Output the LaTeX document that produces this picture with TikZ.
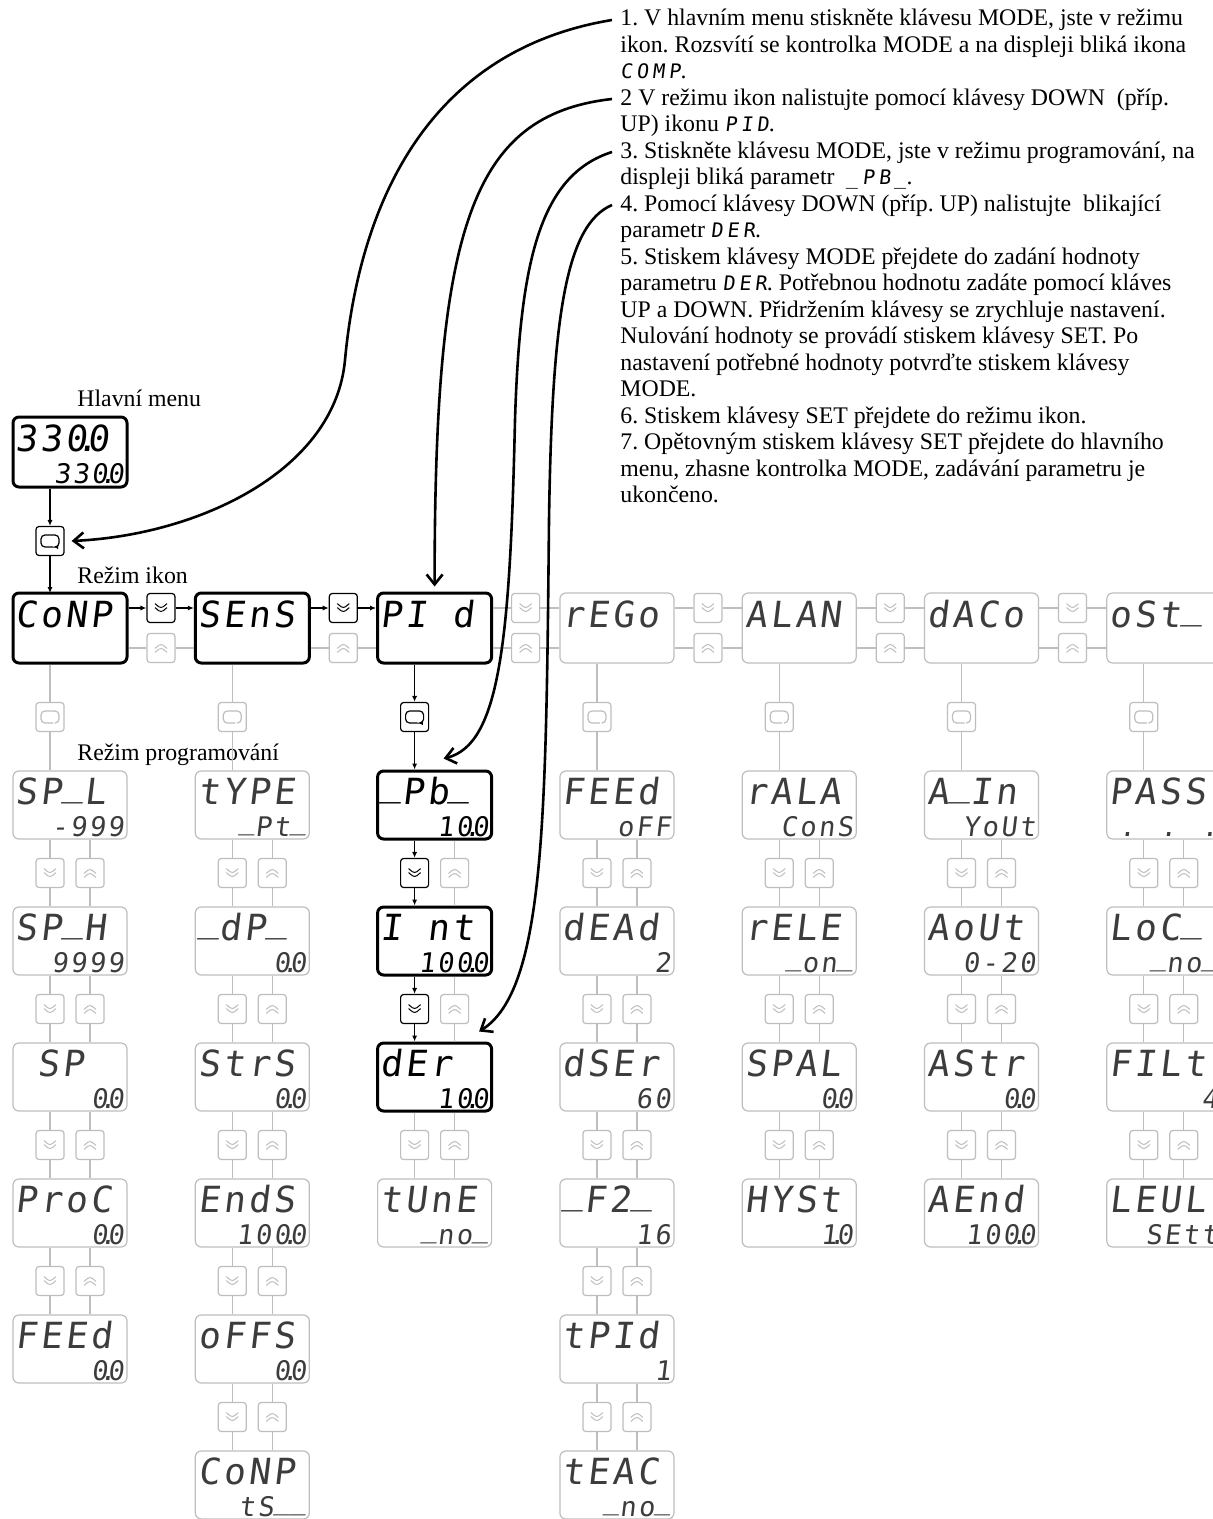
\documentclass[tikz,border=0pt]{standalone}
\usepackage{fontspec}
\setmainfont{Liberation Serif}
\newfontfamily\segfont[FakeSlant=0.12,LetterSpace=9]{DejaVu Sans Mono}
\newfontfamily\seginline[FakeSlant=0.12,LetterSpace=20]{DejaVu Sans Mono}
\usetikzlibrary{arrows.meta,calc}

\definecolor{offgray}{RGB}{190,190,190}
\definecolor{offtext}{RGB}{60,60,60}

% display contents: upper row left, lower row right
\newcommand\dt{\makebox[0pt]{.}}
\newcommand\us{\raisebox{0.23em}{\_}}
\newcommand\lcd[2]{\parbox[c][33pt][t]{54pt}{\segfont
  \fontsize{18}{18}\selectfont\rule{0pt}{16pt}#1\par\vfill
  \fontsize{13.5}{13.5}\selectfont\hfill#2\rule[-1pt]{0pt}{1pt}\par}}
\newcommand\sg[1]{{\seginline\fontsize{10}{10}\selectfont #1}}

% key symbols
\newcommand\chevdown[1]{\draw[#1, line width=0.5pt]
  ([shift={(-3pt,2.2pt)}]path picture bounding box.center) -- ++(3pt,-2.5pt) -- ++(3pt,2.5pt)
  ([shift={(-3pt,0.2pt)}]path picture bounding box.center) -- ++(3pt,-2.5pt) -- ++(3pt,2.5pt);}
\newcommand\chevup[1]{\draw[#1, line width=0.5pt]
  ([shift={(-3pt,-2.2pt)}]path picture bounding box.center) -- ++(3pt,2.5pt) -- ++(3pt,-2.5pt)
  ([shift={(-3pt,-0.2pt)}]path picture bounding box.center) -- ++(3pt,2.5pt) -- ++(3pt,-2.5pt);}
\newcommand\loopmark[2]{\draw[#1, line width=0.6pt, rounded corners=2pt, #2]
  ([shift={(1.5pt,-3pt)}]path picture bounding box.center) -- ++(-6pt,0pt) -- ++(0pt,6pt)
  -- ++(9pt,0pt) -- ++(0pt,-6pt) -- ++(-2.2pt,0pt);}

\tikzset{
  lcdon/.style={draw, line width=1.5pt, rounded corners=3pt, fill=white, inner sep=0pt,
    minimum width=57pt, minimum height=35pt, text=black},
  lcdoff/.style={lcdon, draw=offgray, line width=0.6pt, text=offtext},
  prog/.style={minimum height=34pt},
  keyon/.style={draw, line width=0.6pt, rounded corners=1.5pt, fill=white, inner sep=0pt,
    minimum width=14pt, minimum height=14.5pt},
  keyoff/.style={keyon, draw=offgray},
  dkey/.style={path picture={\chevdown{#1}}},
  ukey/.style={path picture={\chevup{#1}}},
  lkey/.style={path picture={\loopmark{#1}{}}},
  lkeyon/.style={path picture={\loopmark{black}{-{Latex[length=1.8pt,width=2.4pt]}}}},
  conon/.style={line width=0.6pt, -{Latex[length=3pt,width=2.6pt]}},
  conoff/.style={draw=offgray, line width=0.6pt},
  modetitle/.style={anchor=base west, inner sep=0pt, font=\fontsize{11.9}{13.25}\selectfont},
  steps/.style={align=left, inner sep=0pt, font=\fontsize{11.9}{13.25}\selectfont\frenchspacing},
  hint/.style={line width=1.3pt, -{Straight Barb[length=5pt,width=8pt]}}
}

\begin{document}
\begin{tikzpicture}[x=0.5pt, y=-0.5pt]
  \fill[white] (0,0) rectangle (1213,1519);
  \useasboundingbox (0,0) rectangle (1213,1519);
  \clip (0,0) rectangle (1213,1519);

  % Main menu
  \node[modetitle] (tmain) at (77,407) {Hlavní menu};
  \node[lcdon] (main) at (70,452) {\lcd{330\dt0}{330\dt0}};
  \node[keyon, lkeyon] (kmain) at (50,541) {};
  \draw[conon] (kmain.north |- main.south) -- (kmain.north);
  \draw[conon] (kmain.south) -- (kmain.south |- 0,593);

  % Icon mode
  \node[modetitle] (ticon) at (77,583) {Režim ikon};
  \node[lcdon] (i1) at (70,628) {\lcd{CoNP}{}};
  \node[lcdon] (i2) at (252.3,628) {\lcd{SEnS}{}};
  \node[lcdon] (i3) at (434.6,628) {\lcd{PI d}{}};
  \node[lcdoff] (i4) at (616.9,628) {\lcd{rEGo}{}};
  \node[lcdoff] (i5) at (799.2,628) {\lcd{ALAN}{}};
  \node[lcdoff] (i6) at (981.5,628) {\lcd{dACo}{}};
  \node[lcdoff] (i7) at (1163.8,628) {\lcd{oSt\us}{}};

  % keys between the icons
  \node[keyon, dkey=black] (hd1) at (161,608) {};
  \node[keyon, dkey=black] (hd2) at (343.3,608) {};
  \draw[conon] (i1.east |- hd1) -- (hd1.west);
  \draw[conon] (hd1.east) -- (hd1.east -| i2.west);
  \draw[conon] (i2.east |- hd2) -- (hd2.west);
  \draw[conon] (hd2.east) -- (hd2.east -| i3.west);
  \foreach \c/\x [evaluate=\c as \s using int(\c+1)] in {3/434.6, 4/616.9, 5/799.2, 6/981.5} {
    \node[keyoff, dkey=offgray] (hd\c) at ({\x+91},608) {};
    \draw[conoff] (i\c.east |- hd\c) -- (hd\c.west) (hd\c.east) -- (hd\c.east -| i\s.west);
  }
  \foreach \c/\x [evaluate=\c as \s using int(\c+1)] in {1/70, 2/252.3, 3/434.6, 4/616.9, 5/799.2, 6/981.5} {
    \node[keyoff, ukey=offgray] (hu\c) at ({\x+91},648) {};
    \draw[conoff] (i\c.east |- hu\c) -- (hu\c.west) (hu\c.east) -- (hu\c.east -| i\s.west);
  }

  % Programming mode
  \node[modetitle] (tprog) at (77,760) {Režim programování};
  \foreach \t/\b [count=\r] in {SP\us L/-999, SP\us H/9999, {\phantom{S}SP}/0\dt0, ProC/0\dt0, FEEd/0\dt0}
    \node[lcdoff, prog] (p1-\r) at (70,{805+136*(\r-1)}) {\lcd{\t}{\b}};
  \foreach \t/\b [count=\r] in {tYPE/\us Pt\us, \us dP\us/0\dt0, StrS/0\dt0, EndS/100\dt0, oFFS/0\dt0, CoNP/tS\us\us}
    \node[lcdoff, prog] (p2-\r) at (252.3,{805+136*(\r-1)}) {\lcd{\t}{\b}};
  \node[lcdon, prog] (p3-1) at (434.6,805) {\lcd{\us Pb\us}{10\dt0}};
  \node[lcdon, prog] (p3-2) at (434.6,941) {\lcd{I nt}{100\dt0}};
  \node[lcdon, prog] (p3-3) at (434.6,1077) {\lcd{dEr}{10\dt0}};
  \node[lcdoff, prog] (p3-4) at (434.6,1213) {\lcd{tUnE}{\us no\us}};
  \foreach \t/\b [count=\r] in {FEEd/oFF, dEAd/2, dSEr/60, \us F2\us/16, tPId/1, tEAC/\us no\us}
    \node[lcdoff, prog] (p4-\r) at (616.9,{805+136*(\r-1)}) {\lcd{\t}{\b}};
  \foreach \t/\b [count=\r] in {rALA/ConS, rELE/\us on\us, SPAL/0\dt0, HYSt/1\dt0}
    \node[lcdoff, prog] (p5-\r) at (799.2,{805+136*(\r-1)}) {\lcd{\t}{\b}};
  \foreach \t/\b [count=\r] in {A\us In/YoUt, AoUt/0-20, AStr/0\dt0, AEnd/100\dt0}
    \node[lcdoff, prog] (p6-\r) at (981.5,{805+136*(\r-1)}) {\lcd{\t}{\b}};
  \foreach \t/\b [count=\r] in {PASS/. . ., LoC\us/\us no\us, FILt/4, LEUL/SEtt}
    \node[lcdoff, prog] (p7-\r) at (1163.8,{805+136*(\r-1)}) {\lcd{\t}{\b}};

  % grey keys of the programming columns
  \foreach \c/\x/\n in {1/70/5, 2/252.3/6, 4/616.9/6, 5/799.2/4, 6/981.5/4, 7/1163.8/4} {
    \node[keyoff, lkey=offgray] (m\c) at ({\x-20},717) {};
    \draw[conoff] (m\c.north |- i\c.south) -- (m\c.north) (m\c.south) -- (m\c.south |- p\c-1.north);
    \pgfmathtruncatemacro\last{\n-1}
    \foreach \r [evaluate=\r as \s using int(\r+1)] in {1,...,\last} {
      \node[keyoff, dkey=offgray] (d\c-\r) at ({\x-20},{873+136*(\r-1)}) {};
      \node[keyoff, ukey=offgray] (u\c-\r) at ({\x+20},{873+136*(\r-1)}) {};
      \draw[conoff] (d\c-\r.north |- p\c-\r.south) -- (d\c-\r.north) (d\c-\r.south) -- (d\c-\r.south |- p\c-\s.north);
      \draw[conoff] (u\c-\r.north |- p\c-\r.south) -- (u\c-\r.north) (u\c-\r.south) -- (u\c-\r.south |- p\c-\s.north);
    }
  }

  % PID column
  \node[keyon, lkeyon] (m3) at (414.6,717) {};
  \draw[conon] (m3.north |- i3.south) -- (m3.north);
  \draw[conon] (m3.south) -- (m3.south |- p3-1.north);
  \node[keyon, dkey=black] (d3-1) at (414.6,873) {};
  \node[keyon, dkey=black] (d3-2) at (414.6,1009) {};
  \node[keyoff, dkey=offgray] (d3-3) at (414.6,1145) {};
  \draw[conon] (d3-1.north |- p3-1.south) -- (d3-1.north);
  \draw[conon] (d3-1.south) -- (d3-1.south |- p3-2.north);
  \draw[conon] (d3-2.north |- p3-2.south) -- (d3-2.north);
  \draw[conon] (d3-2.south) -- (d3-2.south |- p3-3.north);
  \draw[conoff] (d3-3.north |- p3-3.south) -- (d3-3.north) (d3-3.south) -- (d3-3.south |- p3-4.north);
  \foreach \r [evaluate=\r as \s using int(\r+1)] in {1,2,3} {
    \node[keyoff, ukey=offgray] (u3-\r) at (454.6,{873+136*(\r-1)}) {};
    \draw[conoff] (u3-\r.north |- p3-\r.south) -- (u3-\r.north) (u3-\r.south) -- (u3-\r.south |- p3-\s.north);
  }

  % Steps
  \node[steps, anchor=north west] (steps) at (620,9) {%
    1. V hlavním menu stiskněte klávesu MODE, jste v režimu\\
    ikon. Rozsvítí se kontrolka MODE a na displeji bliká ikona\\
    \sg{COMP}.\\
    2 V režimu ikon nalistujte pomocí klávesy DOWN~ (příp.\\
    UP) ikonu \sg{PID}.\\
    3. Stiskněte klávesu MODE, jste v režimu programování, na\\
    displeji bliká parametr~ \sg{\_PB\_}.\\
    4. Pomocí klávesy DOWN (příp. UP) nalistujte~ blikající\\
    parametr \sg{DER}.\\
    5. Stiskem klávesy MODE přejdete do zadání hodnoty\\
    parametru \sg{DER}. Potřebnou hodnotu zadáte pomocí kláves\\
    UP a DOWN. Přidržením klávesy se zrychluje nastavení.\\
    Nulování hodnoty se provádí stiskem klávesy SET. Po\\
    nastavení potřebné hodnoty potvrďte stiskem klávesy\\
    MODE.\\
    6. Stiskem klávesy SET přejdete do režimu ikon.\\
    7. Opětovným stiskem klávesy SET přejdete do hlavního\\
    menu, zhasne kontrolka MODE, zadávání parametru je\\
    ukončeno.};

  % Hints from the steps to the diagram
  \coordinate (s1) at (612,20);
  \coordinate (s2) at (612,99);
  \coordinate (s3) at (612,152);
  \coordinate (s4) at (612,205);
  \draw[hint] (s1) .. controls (430,50) and (360,200) .. (345,360)
    .. controls (335,470) and (200,535) .. ([xshift=3.5pt]kmain.east);
  \draw[hint] (s2) .. controls (470,115) and (434.6,230) .. ([yshift=2.5pt]i3.north);
  \draw[hint] (s3) .. controls (540,175) and (520,260) .. (515,420)
    .. controls (510,640) and (500,745) .. ([xshift=4.5pt,yshift=5.5pt]p3-1.north);
  \draw[hint] (s4) .. controls (565,225) and (552,320) .. (549,520)
    .. controls (546,820) and (545,990) .. ([xshift=-7pt,yshift=5pt]p3-3.north east);
\end{tikzpicture}
\end{document}
